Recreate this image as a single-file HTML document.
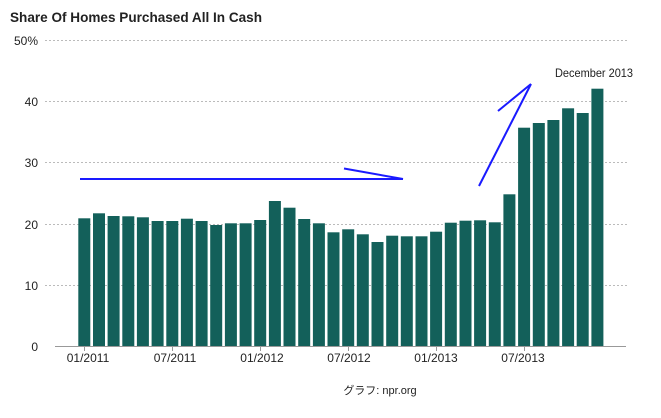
<!DOCTYPE html>
<html><head><meta charset="utf-8"><style>
body{margin:0;background:#fff;width:661px;height:413px;overflow:hidden}
svg text{font-family:"Liberation Sans","Noto Sans CJK JP",sans-serif}
</style></head><body>
<svg width="661" height="413" viewBox="0 0 661 413">
<text x="10" y="22" font-size="14" font-weight="bold" fill="#222" textLength="252" lengthAdjust="spacingAndGlyphs">Share Of Homes Purchased All In Cash</text>
<g stroke="#bbb" stroke-dasharray="2,2" stroke-width="1">
<line x1="45" x2="628" y1="40.5" y2="40.5"/><line x1="45" x2="628" y1="101.5" y2="101.5"/>
<line x1="45" x2="628" y1="162.5" y2="162.5"/><line x1="45" x2="628" y1="224.5" y2="224.5"/>
<line x1="45" x2="628" y1="285.5" y2="285.5"/></g>
<g font-size="12" fill="#222" text-anchor="end">
<text x="38" y="45">50%</text><text x="38" y="106">40</text><text x="38" y="167">30</text>
<text x="38" y="229">20</text><text x="38" y="290">10</text><text x="38" y="351">0</text></g>
<g fill="#13605a" id="bars"></g>
<line x1="55" x2="626" y1="346.5" y2="346.5" stroke="#999"/>
<g stroke="#999"><line x1="84.5" x2="84.5" y1="346" y2="351"/><line x1="172.5" x2="172.5" y1="346" y2="351"/><line x1="260.5" x2="260.5" y1="346" y2="351"/><line x1="348.5" x2="348.5" y1="346" y2="351"/><line x1="436.5" x2="436.5" y1="346" y2="351"/><line x1="524.5" x2="524.5" y1="346" y2="351"/></g>
<g font-size="12" fill="#222" text-anchor="middle">
<text x="88" y="362">01/2011</text><text x="175" y="362">07/2011</text><text x="262" y="362">01/2012</text>
<text x="349" y="362">07/2012</text><text x="436" y="362">01/2013</text><text x="523" y="362">07/2013</text></g>
<text x="555" y="77" font-size="12" fill="#222" textLength="78" lengthAdjust="spacingAndGlyphs">December 2013</text>
<g stroke="#1a1aff" stroke-width="2" fill="none">
<line x1="80" y1="179" x2="403" y2="179"/><line x1="344" y1="168.5" x2="403" y2="179"/>
<line x1="479" y1="186" x2="531" y2="84"/><line x1="498" y1="111" x2="531" y2="84"/></g>
<text x="380" y="394" font-size="11" fill="#222" text-anchor="middle">グラフ: npr.org</text>
</svg>
<script>
var tops=[218.3,213.3,216,216.3,217.3,221,221,218.7,221,225,223.3,223.3,220,201,207.7,219,223.3,232.3,229.3,234.3,242,235.7,236.3,236.3,231.7,222.7,220.7,220.3,222.3,194.3,127.7,123,120,108.3,113,88.7];
var g=document.getElementById('bars'),s='';
tops.forEach(function(t,i){var x=78.3+i*14.66;g.innerHTML+='';s+='<rect x="'+x.toFixed(1)+'" y="'+t+'" width="12" height="'+(346-t).toFixed(1)+'"/>';});
g.innerHTML=s;
</script>
</body></html>
